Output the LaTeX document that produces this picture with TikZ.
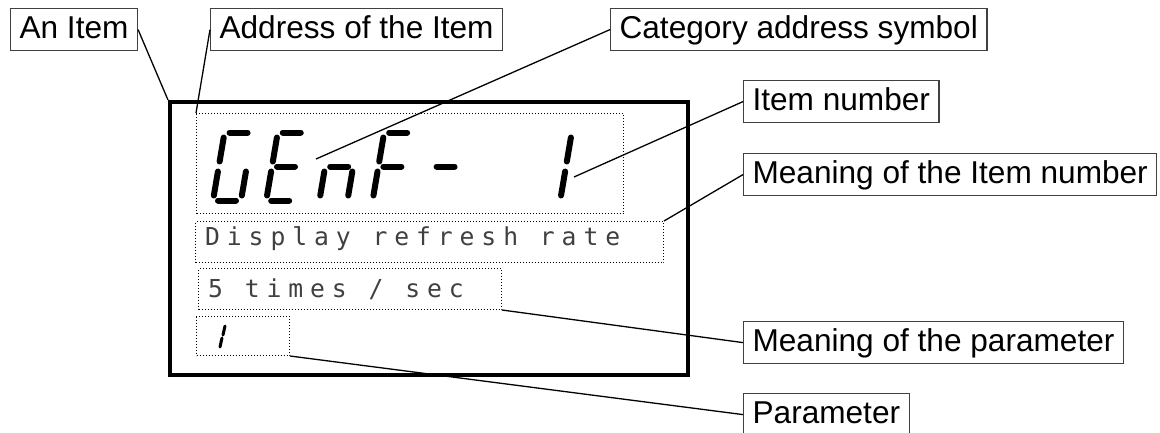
\documentclass[tikz,border=0pt]{standalone}
\usepackage{fontspec}
\setmainfont{Liberation Sans}
\newfontfamily\dotfont[LetterSpace=28]{DejaVu Sans Mono}

% segments of one seven-segment digit (u right, -v up)
\def\segA{(5,-68)--(23,-68)}
\def\segB{(28,-63)--(28,-39)}
\def\segC{(28,-29)--(28,-5)}
\def\segD{(5,0)--(23,0)}
\def\segE{(0,-5)--(0,-29)}
\def\segF{(0,-39)--(0,-63)}
\def\segG{(5,-34)--(23,-34)}

\tikzset{
  tagbox/.style={draw=black!75, line width=1.2pt, anchor=north west,
    minimum height=42pt, inner xsep=9pt, inner ysep=0pt,
    text height=22pt, text depth=5pt, font=\fontsize{31.6}{36}\selectfont},
  dotbox/.style={draw, line width=1pt, dash pattern=on 1pt off 2pt,
    anchor=north west, inner sep=0pt},
  dottext/.style={inner sep=0pt, anchor=base west, text=black!75,
    font=\dotfont\fontsize{24.7}{28}\selectfont},
  leader/.style={line width=1.3pt},
  segline/.style={line width=6pt, line cap=round},
}

\begin{document}
\begin{tikzpicture}[x=1pt,y=-1pt]
  \useasboundingbox (0,0) rectangle (1160,432);

  % display
  \node[draw, line width=4pt, minimum width=518pt, minimum height=273pt,
    inner sep=0pt, anchor=north west] (screen) at (168,100) {};
  \node[dotbox, minimum width=427pt, minimum height=100pt] (addrbox) at (196,113) {};
  \node[dotbox, minimum width=468pt, minimum height=41pt] (meanbox) at (195,221) {};
  \node[dotbox, minimum width=303pt, minimum height=41pt] (valbox) at (198,268) {};
  \node[dotbox, minimum width=93pt, minimum height=39pt] (parbox) at (196,316) {};

  \node[dottext] (meantext) at (205,245) {Display refresh rate};
  \node[dottext] (valtext) at (208,297) {5 times / sec};

  % GEnF-  1
  \foreach \pos/\segs in {0/{A,C,D,E,F}, 1/{A,D,E,F,G}, 2/{C,E,G},
      3/{A,E,F,G}, 4/{G}, 6/{B,C}}{
    \begin{scope}[shift={(213+53.2*\pos,200.5)}, xslant=0.17]
      \foreach \s in \segs \draw[segline] \csname seg\s\endcsname;
    \end{scope}
  }
  \draw[line width=3pt, line cap=round] (225,326) -- (223,335) (222,338) -- (220,347);

  % labels
  \node[tagbox] (item) at (10,8) {An Item};
  \node[tagbox] (addr) at (210,8) {Address of the Item};
  \node[tagbox] (cat) at (610,8) {Category address symbol};
  \node[tagbox] (num) at (743,80) {Item number};
  \node[tagbox] (nummean) at (743,153) {Meaning of the Item number};
  \node[tagbox] (parmean) at (743,321) {Meaning of the parameter};
  \node[tagbox] (par) at (743,393) {Parameter\hspace{15pt}};

  \coordinate (catpt) at (316,159);
  \coordinate (numpt) at (574,177);

  \draw[leader] (item.east) -- (screen.north west);
  \draw[leader] (addr.west) -- (addrbox.north west);
  \draw[leader] (cat.west) -- (catpt);
  \draw[leader] (num.west) -- (numpt);
  \draw[leader] (nummean.west) -- (meanbox.north east);
  \draw[leader] (parmean.west) -- (valbox.south east);
  \draw[leader] (par.west) -- (parbox.south east);
\end{tikzpicture}
\end{document}
